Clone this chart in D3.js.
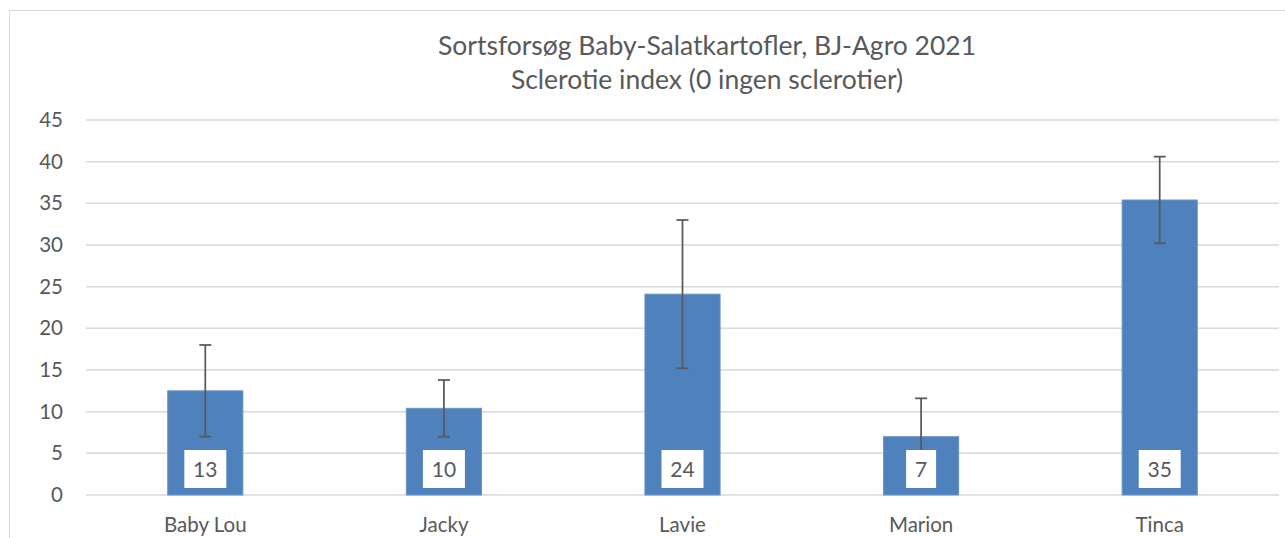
<!DOCTYPE html>
<html>
<head>
<meta charset="utf-8">
<title>Sortsforsøg Baby-Salatkartofler</title>
<script src="https://cdn.jsdelivr.net/npm/d3@7"></script>
<style>
* { margin: 0; padding: 0; }
body { background: #fff; width: 1285px; height: 538px; overflow: hidden; }
text { font-family: Lato, "Open Sans", sans-serif; fill: #595959; }
</style>
</head>
<body>
<div id="chart"></div>
<script>
// sorter og middel sclerotie index
var varieties = ["Baby Lou", "Jacky", "Lavie", "Marion", "Tinca"];
var means = [12.5, 10.4, 24.1, 7.0, 35.4];
var errors = [5.5, 3.4, 8.9, 4.6, 5.2];
var labels = ["13", "10", "24", "7", "35"];
var yTicks = [0, 5, 10, 15, 20, 25, 30, 35, 40, 45];
var titleLines = ["Sortsforsøg Baby-Salatkartofler, BJ-Agro 2021", "Sclerotie index (0 ingen sclerotier)"];

var W = 1285, H = 538;
var plotLeft = 86, plotRight = 1279, plotTop = 120, plotBottom = 495;

var svg = d3.select("#chart").append("svg")
  .attr("width", W).attr("height", H);

// chart frame
svg.append("rect")
  .attr("x", 9.5).attr("y", 10.5)
  .attr("width", W).attr("height", H)
  .attr("fill", "none").attr("stroke", "#d9d9d9").attr("stroke-width", 1);

var x = d3.scaleBand().domain(varieties).range([plotLeft, plotRight]).paddingInner(0.685).paddingOuter(0.3425);
var y = d3.scaleLinear().domain([0, 45]).range([plotBottom, plotTop]);

// gridlines
svg.append("g").selectAll("line").data(yTicks).enter().append("line")
  .attr("x1", plotLeft).attr("x2", plotRight)
  .attr("y1", function(d) { return y(d); }).attr("y2", function(d) { return y(d); })
  .attr("stroke", "#d9d9d9").attr("stroke-width", 1.5);

// y axis labels
var yAxis = d3.axisLeft(y).tickValues(yTicks).tickSize(0).tickPadding(0);
var gy = svg.append("g").attr("transform", "translate(" + 63 + ",0)").call(yAxis);
gy.select(".domain").remove();
gy.selectAll("text").style("font-size", "20.5px").attr("fill", "#595959")
  .style("font-family", "Lato, sans-serif");

// x axis labels
var xAxis = d3.axisBottom(x).tickSize(0).tickPadding(0);
var gx = svg.append("g").attr("transform", "translate(0," + 517 + ")").call(xAxis);
gx.select(".domain").remove();
gx.selectAll("text").style("font-size", "20.5px").attr("fill", "#595959")
  .style("font-family", "Lato, sans-serif");

var rows = varieties.map(function(v, i) {
  return { name: v, mean: means[i], err: errors[i], label: labels[i] };
});

// bars
svg.append("g").selectAll("rect").data(rows).enter().append("rect")
  .attr("x", function(d) { return x(d.name); })
  .attr("y", function(d) { return y(d.mean); })
  .attr("width", x.bandwidth())
  .attr("height", function(d) { return y(0) - y(d.mean); })
  .attr("fill", "#4f81bd")
  .attr("stroke", "#6d94c8").attr("stroke-width", 1);

// error bars
var eb = svg.append("g").selectAll("g").data(rows).enter().append("g")
  .attr("stroke", "#595959").attr("stroke-width", 1.75);
eb.append("line")
  .attr("x1", function(d) { return x(d.name) + x.bandwidth() / 2; })
  .attr("x2", function(d) { return x(d.name) + x.bandwidth() / 2; })
  .attr("y1", function(d) { return y(d.mean - d.err); })
  .attr("y2", function(d) { return y(d.mean + d.err); });
[-1, 1].forEach(function(s) {
  eb.append("line")
    .attr("x1", function(d) { return x(d.name) + x.bandwidth() / 2 - 6; })
    .attr("x2", function(d) { return x(d.name) + x.bandwidth() / 2 + 6; })
    .attr("y1", function(d) { return y(d.mean + s * d.err); })
    .attr("y2", function(d) { return y(d.mean + s * d.err); });
});

// value labels in white boxes
var lab = svg.append("g").selectAll("g").data(rows).enter().append("g")
  .attr("transform", function(d) { return "translate(" + (x(d.name) + x.bandwidth() / 2) + "," + 469 + ")"; });
lab.append("rect")
  .attr("x", function(d) { return d.label.length > 1 ? -21 : -15; })
  .attr("y", -19)
  .attr("width", function(d) { return d.label.length > 1 ? 42 : 30; })
  .attr("height", 38)
  .attr("fill", "#fff");
lab.append("text")
  .attr("text-anchor", "middle").attr("dy", "0.36em")
  .style("font-size", "21px")
  .text(function(d) { return d.label; });

// title
svg.append("g").selectAll("text").data(titleLines).enter().append("text")
  .attr("x", 707).attr("y", function(d, i) { return 55 + i * 34; })
  .attr("text-anchor", "middle")
  .style("font-size", "26.5px")
  .text(function(d) { return d; });
</script>
</body>
</html>
